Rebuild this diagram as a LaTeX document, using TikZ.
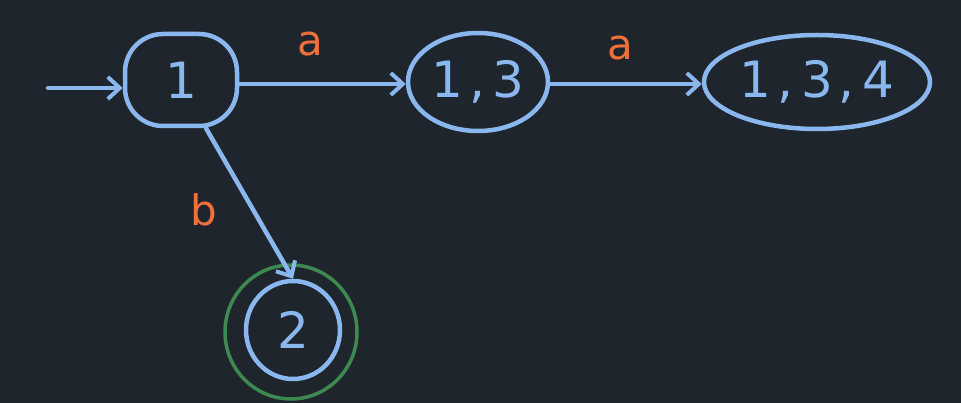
\documentclass[tikz,border=0pt]{standalone}
\usepackage{fontspec}
\setmainfont{DejaVu Sans}
\usetikzlibrary{arrows.meta,shapes.geometric}
\definecolor{bg}{HTML}{1F252D}
\definecolor{stroke}{HTML}{8AB8EE}
\definecolor{lbl}{HTML}{F0703A}
\definecolor{acc}{HTML}{3C8A50}
\begin{document}
\begin{tikzpicture}[x=1pt,y=-1pt,
  state/.style={draw=stroke,line width=4.5pt,text=stroke,font=\fontsize{50}{52}\selectfont,inner sep=0pt},
  edge/.style={draw=stroke,line width=4.5pt,-{Straight Barb[length=12pt,width=22pt,line width=4pt]},line cap=round},
  elabel/.style={text=lbl,font=\fontsize{42}{44}\selectfont}]
\fill[bg] (0,0) rectangle (961,403);
\useasboundingbox (0,0) rectangle (961,403);
\node[state,rounded corners=38pt,minimum width=112pt,minimum height=92pt] (s1) at (181,80) {1};
\node[state,ellipse,minimum width=140pt,minimum height=98pt] (s13) at (478,82) {1\kern6pt,\kern8pt3};
\node[state,ellipse,minimum width=226pt,minimum height=94pt] (s134) at (817,82) {1\kern6pt,\kern8pt3\kern6pt,\kern8pt4};
\node[state,ellipse,minimum width=94pt,minimum height=98pt] (s2) at (293,330) {2};
\node[draw=acc,line width=3.5pt,ellipse,minimum width=132pt,minimum height=134pt] (f2) at (291,332) {};
\coordinate (start) at (48,88);
\draw[edge] (start) -- (s1.west |- start);
\draw[edge] (s1.east |- 0,84) -- (s13.west |- 0,84);
\draw[edge] (s13.east |- 0,84) -- (s134.west |- 0,84);
\draw[edge] (s1.south) ++(25,0) coordinate (bs) -- (s2.north);
\node[elabel] (la1) at (310,44) {a};
\node[elabel] (la2) at (620,48) {a};
\node[elabel] (lb) at (204,210) {b};
\end{tikzpicture}
\end{document}
